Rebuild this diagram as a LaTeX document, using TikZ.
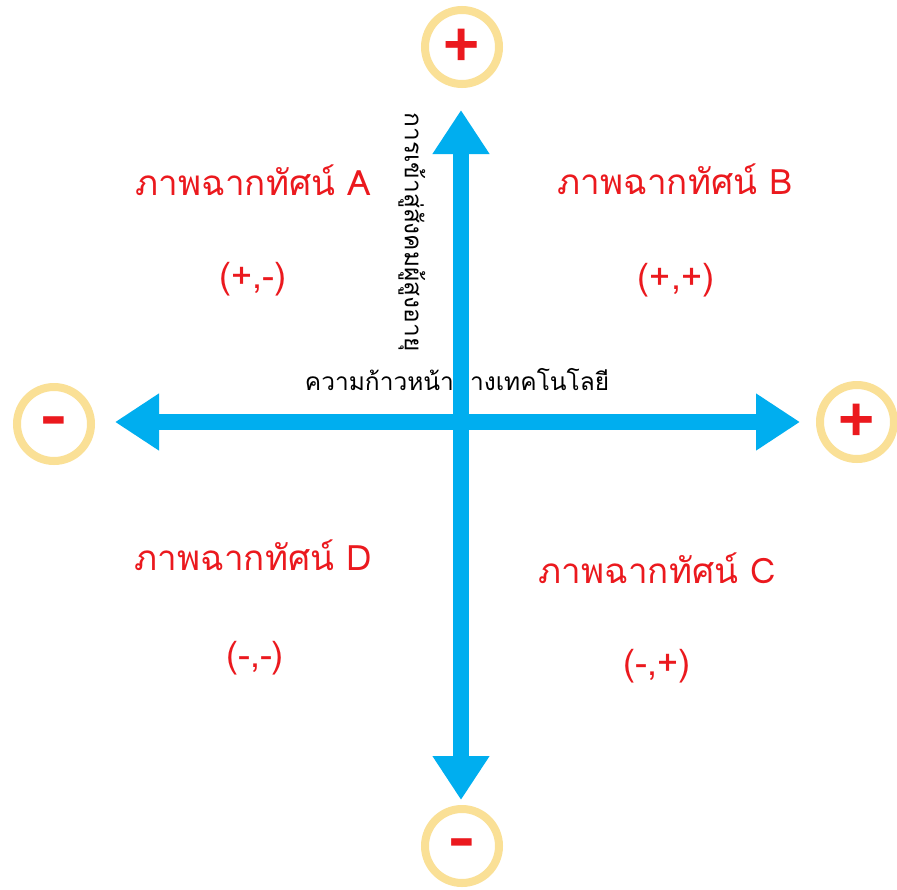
\documentclass[tikz,border=0pt]{standalone}
\usepackage{fontspec}
\setmainfont[Script=Thai]{Loma}
\newfontfamily\signfont{Liberation Sans}
\usetikzlibrary{arrows.meta}
\definecolor{axisblue}{RGB}{0,174,239}
\definecolor{ringgold}{RGB}{250,224,150}
\definecolor{labelred}{RGB}{235,25,30}
\tikzset{
  ring/.style={circle, draw=ringgold, line width=8pt, minimum size=74pt, inner sep=0pt},
  sign/.style={text=labelred, font=\fontsize{62}{62}\signfont\bfseries, inner sep=0pt},
  minussign/.style={sign, xscale=1.3},
  scen/.style={text=labelred, font=\fontsize{35}{38}\selectfont, inner sep=0pt},
  pair/.style={text=labelred, font=\fontsize{36}{38}\selectfont, inner sep=0pt},
  axislbl/.style={text=black, font=\fontsize{24.5}{27}\selectfont, inner sep=0pt},
  axisarrow/.style={draw=axisblue, line width=16pt, {Triangle[width=54pt,length=44pt]}-{Triangle[width=54pt,length=44pt]}}
}
\begin{document}
\begin{tikzpicture}[x=1pt,y=-1pt]
\useasboundingbox (0,0) rectangle (897,889);
\fill[white] (0,0) rectangle (897,889);
% circles
\node[ring] (top) at (462,47) {};
\node[ring] (bottom) at (462,846) {};
\node[ring] (left) at (54,424) {};
\node[ring] (right) at (857,422) {};
\node[sign] (topsign) at (top.center) {+};
\node[minussign] (bottomsign) at ([yshift=-3pt]bottom.center) {-};
\node[minussign] (leftsign) at ([yshift=-3pt]left.center) {-};
\node[sign] (rightsign) at (right.center) {+};
% labels
\node[scen] (sA) at (253,180) {ภาพฉากทัศน์ A};
\node[pair] (pA) at (253,279) {(+,-)};
\node[scen] (sB) at (675,179) {ภาพฉากทัศน์ B};
\node[pair] (pB) at (676,280) {(+,+)};
\node[scen] (sD) at (253,555) {ภาพฉากทัศน์ D};
\node[pair] (pD) at (255,658) {(-,-)};
\node[scen] (sC) at (657,568) {ภาพฉากทัศน์ C};
\node[pair] (pC) at (657,666) {(-,+)};
% axis labels
\node[axislbl] (hlbl) at (457,380) {ความก้าวหน้าทางเทคโนโลยี};
\node[axislbl, rotate=-90] (vlbl) at (412,232) {การเข้าสู่สังคมผู้สูงอายุ};
% arrows
\coordinate (vt) at (461,110);
\coordinate (vb) at (461,800);
\coordinate (hl) at (115,422);
\coordinate (hr) at (800,422);
\draw[axisarrow] (hl) -- (hr);
\draw[axisarrow] (vt) -- (vb);
\end{tikzpicture}
\end{document}
